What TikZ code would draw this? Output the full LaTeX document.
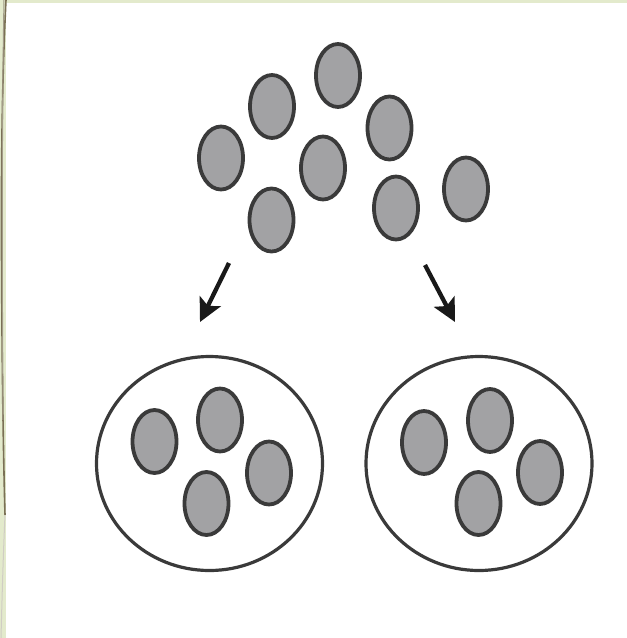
\documentclass[tikz,border=0pt]{standalone}
\usetikzlibrary{arrows.meta,shapes.geometric}
\definecolor{bggreen}{HTML}{E3EACC}
\definecolor{edgeol}{HTML}{7A7055}
\definecolor{dotfill}{HTML}{A2A2A4}
\definecolor{dotline}{HTML}{3A3A3A}
\begin{document}
\begin{tikzpicture}[x=1pt,y=-1pt,
  dot/.style={draw=dotline,line width=3.8pt,fill=dotfill,ellipse,minimum width=44pt,minimum height=63pt,inner sep=0pt},
  group/.style={draw=dotline,line width=3.2pt,fill=white,ellipse,minimum width=226pt,minimum height=214pt,inner sep=0pt},
  splitarrow/.style={draw=black!90,line width=4.3pt,-{Stealth[length=23pt,width=23pt,inset=5pt]}}]
\useasboundingbox (0,0) rectangle (627,638);
\fill[bggreen] (0,0) rectangle (627,638);
\fill[white] (6,3) rectangle (627,638);
\draw[edgeol,line width=1.6pt] (6,0) .. controls (3,60) and (1,140) .. (1.5,250) .. controls (2,360) and (3,440) .. (5,515);
\draw[edgeol!70,line width=1pt] (4,0) .. controls (2,100) and (2,250) .. (3,420);
\draw[edgeol!35,line width=1pt] (5,515) .. controls (3,560) and (2,600) .. (1,638);
% top scattered dots
\node[dot] (t1) at (338,75.5) {};
\node[dot] (t2) at (272,106.5) {};
\node[dot] (t3) at (389.5,128) {};
\node[dot] (t4) at (221,158) {};
\node[dot] (t5) at (323,168) {};
\node[dot] (t6) at (466,189) {};
\node[dot] (t7) at (271.5,220) {};
\node[dot] (t8) at (396,208) {};
% arrows
\coordinate (la) at (229,263);
\coordinate (lb) at (200,322);
\coordinate (ra) at (425,265);
\coordinate (rb) at (455,322);
\draw[splitarrow] (la) -- (lb);
\draw[splitarrow] (ra) -- (rb);
% left group
\node[group] (gl) at (209.5,463.5) {};
\node[dot] (l1) at (154.5,441.5) {};
\node[dot] (l2) at (220,420) {};
\node[dot] (l3) at (269,473) {};
\node[dot] (l4) at (206.5,503.5) {};
% right group
\node[group] (gr) at (479,463.5) {};
\node[dot] (r1) at (424,442.5) {};
\node[dot] (r2) at (490,420.5) {};
\node[dot] (r3) at (540,472.5) {};
\node[dot] (r4) at (478.5,503.5) {};
\end{tikzpicture}
\end{document}
